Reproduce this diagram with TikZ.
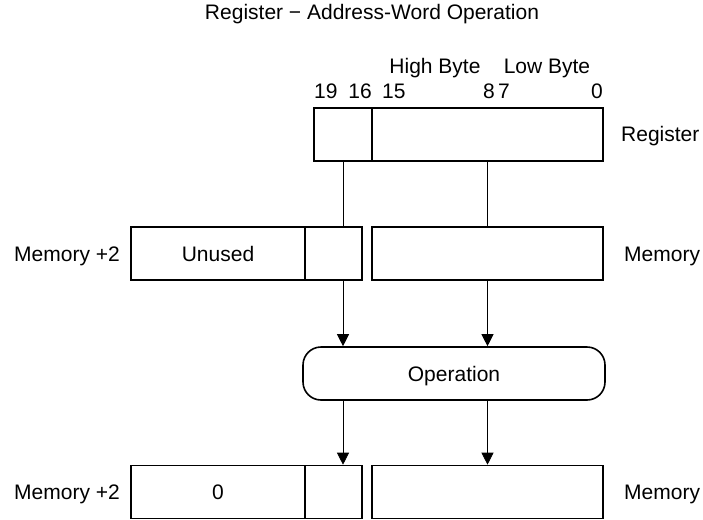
\documentclass[tikz,border=0pt]{standalone}
\usepackage{fontspec}
\setmainfont{Liberation Sans}
\usetikzlibrary{arrows.meta}

\begin{document}
\begin{tikzpicture}[x=1pt,y=-1pt,font=\fontsize{21}{25}\selectfont]
      \tikzset { cell/.style = { draw,line width=1.6pt,inner sep=0pt,minimum height=53pt,
                                 text height=15pt,text depth=0pt } }
      \tikzset { opbox/.style = { cell,rounded corners=18pt,minimum width=302pt } }
      \tikzset { lbl/.style = { inner sep=0pt,text height=15pt,text depth=0pt } }
      \tikzset { edge/.style = { -{Triangle[length=12pt,width=12pt]},line width=0.8pt } }
      \useasboundingbox (0,0) rectangle (703,519);

      \node[lbl] (title) at (372,12) {Register − Address-Word Operation};

      \node[lbl] (hibyte) at (435,65.5) {High Byte};
      \node[lbl] (lobyte) at (547,65.5) {Low Byte};
      \node[lbl,anchor=west] (b19) at (314,90.5) {19};
      \node[lbl,anchor=east] (b16) at (372,90.5) {16};
      \node[lbl,anchor=west] (b15) at (382,90.5) {15};
      \node[lbl,anchor=east] (b8) at (495,90.5) {8};
      \node[lbl,anchor=west] (b7) at (498,90.5) {7};
      \node[lbl,anchor=east] (b0) at (603,90.5) {0};

      \node[cell,minimum width=58pt] (reghi) at (343,134.5) {};
      \node[cell,minimum width=231pt] (reglo) at (487.5,134.5) {};
      \node[lbl,anchor=west] (reglbl) at (621,134) {Register};

      \node[cell,minimum width=174pt] (memunused) at (218,253.5) {Unused};
      \node[cell,minimum width=57pt] (membits) at (333.5,253.5) {};
      \node[cell,minimum width=231pt] (memlo) at (487.5,253.5) {};
      \node[lbl,anchor=east] (memhilbl) at (120,253.5) {Memory +2};
      \node[lbl,anchor=west] (memlolbl) at (624,253.5) {Memory};

      \node[opbox] (op) at (454,373.5) {Operation};

      \node[cell,minimum width=174pt] (reszero) at (218,492) {0};
      \node[cell,minimum width=57pt] (resbits) at (333.5,492) {};
      \node[cell,minimum width=231pt] (reslo) at (487.5,492) {};
      \node[lbl,anchor=east] (reshilbl) at (120,492) {Memory +2};
      \node[lbl,anchor=west] (reslolbl) at (624,492) {Memory};

      \draw[line width=0.8pt] (reghi.south) -- (reghi.south |- membits.north);
      \draw[line width=0.8pt] (reglo.south) -- (memlo.north);
      \draw[edge] (reghi.south |- membits.south) -- (reghi.south |- op.north);
      \draw[edge] (memlo.south) -- (memlo.south |- op.north);
      \draw[edge] (reghi.south |- op.south) -- (reghi.south |- resbits.north);
      \draw[edge] (memlo.south |- op.south) -- (reslo.north);

    \end{tikzpicture}
\end{document}
